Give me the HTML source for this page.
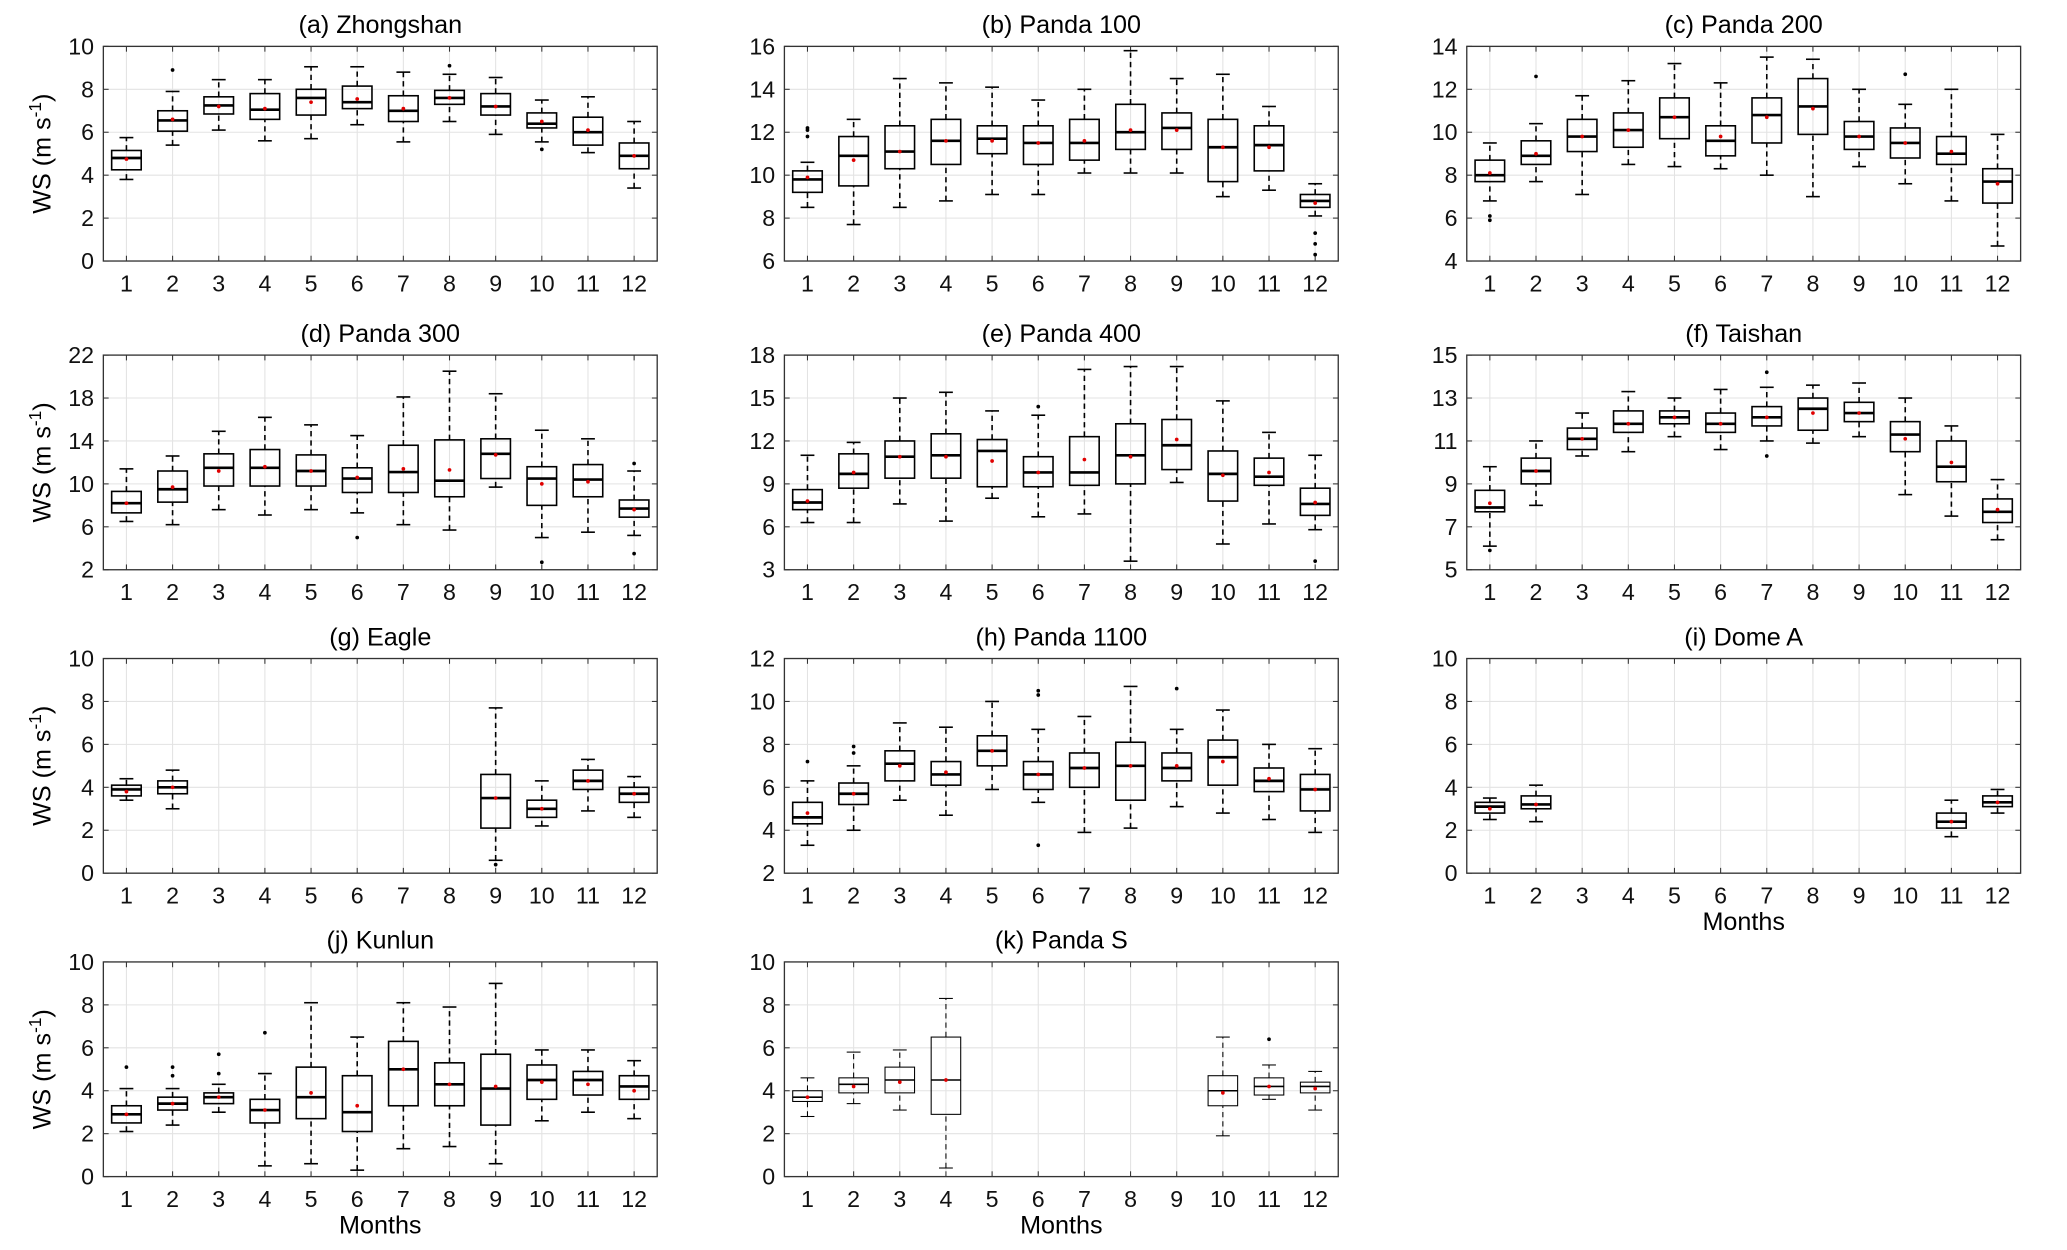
<!DOCTYPE html>
<html><head><meta charset="utf-8"><style>
html,body{margin:0;padding:0;background:#fff}
svg{display:block;font-family:"Liberation Sans",Arial,sans-serif}
</style></head><body>
<svg id="fig" width="2067" height="1250" viewBox="0 0 1560 943.4" xmlns="http://www.w3.org/2000/svg"></svg>
<script>
const panelTitles = ["(a) Zhongshan","(b) Panda 100","(c) Panda 200","(d) Panda 300","(e) Panda 400","(f) Taishan","(g) Eagle","(h) Panda 1100","(i) Dome A","(j) Kunlun","(k) Panda S"];
const yMin = [0,6,4,2,3,5,0,2,0,0,0];
const yMax = [10,16,14,22,18,15,10,12,10,10,10];
const yStep = [2,2,2,4,3,2,2,2,2,2,2];
const months = [1,2,3,4,5,6,7,8,9,10,11,12];
const N = null;
const whiskerLow = [
[3.8,5.4,6.1,5.6,5.7,6.35,5.55,6.5,5.9,5.55,5.05,3.4],
[8.5,7.7,8.5,8.8,9.1,9.1,10.1,10.1,10.1,9.0,9.3,8.1],
[6.8,7.7,7.1,8.5,8.4,8.3,8.0,7.0,8.4,7.6,6.8,4.7],
[6.5,6.2,7.6,7.1,7.6,7.3,6.2,5.7,9.7,5.0,5.5,5.2],
[6.3,6.3,7.6,6.4,8.0,6.7,6.9,3.6,9.1,4.8,6.2,5.8],
[6.1,8.0,10.3,10.5,11.2,10.6,11.0,10.9,11.2,8.5,7.5,6.4],
[3.4,3.0,N,N,N,N,N,N,0.6,2.2,2.9,2.6],
[3.3,4.0,5.4,4.7,5.9,5.3,3.9,4.1,5.1,4.8,4.5,3.9],
[2.5,2.4,N,N,N,N,N,N,N,N,1.7,2.8],
[2.1,2.4,3.0,0.5,0.6,0.3,1.3,1.4,0.6,2.6,3.0,2.7],
[2.8,3.4,3.1,0.4,N,N,N,N,N,1.9,3.6,3.1]];
const quartile1 = [
[4.25,6.05,6.85,6.6,6.8,7.1,6.5,7.3,6.8,6.2,5.4,4.3],
[9.2,9.5,10.3,10.5,11.0,10.5,10.7,11.2,11.2,9.7,10.2,8.5],
[7.7,8.5,9.1,9.3,9.7,8.9,9.5,9.9,9.2,8.8,8.5,6.7],
[7.3,8.3,9.8,9.8,9.8,9.2,9.2,8.8,10.5,8.0,8.8,6.9],
[7.2,8.7,9.4,9.4,8.8,8.8,8.9,9.0,10.0,7.8,8.9,6.8],
[7.7,9.0,10.6,11.4,11.8,11.4,11.7,11.5,11.9,10.5,9.1,7.2],
[3.6,3.7,N,N,N,N,N,N,2.1,2.6,3.9,3.3],
[4.3,5.2,6.3,6.1,7.0,5.9,6.0,5.4,6.3,6.1,5.8,4.9],
[2.8,3.0,N,N,N,N,N,N,N,N,2.1,3.1],
[2.5,3.1,3.4,2.5,2.7,2.1,3.3,3.3,2.4,3.6,3.8,3.6],
[3.5,3.9,3.9,2.9,N,N,N,N,N,3.3,3.8,3.9]];
const medians = [
[4.8,6.55,7.25,7.05,7.6,7.4,7.0,7.6,7.2,6.4,6.0,4.9],
[9.8,10.9,11.1,11.6,11.7,11.5,11.5,12.0,12.2,11.3,11.4,8.8],
[8.0,8.9,9.8,10.1,10.7,9.6,10.8,11.2,9.8,9.5,9.0,7.7],
[8.2,9.5,11.5,11.5,11.2,10.5,11.1,10.3,12.8,10.5,10.4,7.7],
[7.7,9.7,10.9,11.0,11.3,9.8,9.8,11.0,11.7,9.7,9.5,7.6],
[7.9,9.6,11.1,11.8,12.1,11.8,12.1,12.5,12.3,11.3,9.8,7.7],
[3.9,4.0,N,N,N,N,N,N,3.5,3.0,4.3,3.7],
[4.6,5.7,7.1,6.6,7.7,6.6,6.9,7.0,6.9,7.4,6.3,5.9],
[3.1,3.2,N,N,N,N,N,N,N,N,2.4,3.3],
[2.9,3.4,3.7,3.1,3.7,3.0,5.0,4.3,4.1,4.5,4.5,4.2],
[3.7,4.3,4.5,4.5,N,N,N,N,N,4.0,4.2,4.2]];
const quartile3 = [
[5.15,7.0,7.65,7.8,8.0,8.15,7.7,7.95,7.8,6.9,6.7,5.5],
[10.2,11.8,12.3,12.6,12.3,12.3,12.6,13.3,12.9,12.6,12.3,9.1],
[8.7,9.6,10.6,10.9,11.6,10.3,11.6,12.5,10.5,10.2,9.8,8.3],
[9.3,11.2,12.8,13.2,12.7,11.5,13.6,14.1,14.2,11.6,11.8,8.5],
[8.6,11.1,12.0,12.5,12.1,10.9,12.3,13.2,13.5,11.3,10.8,8.7],
[8.7,10.2,11.6,12.4,12.4,12.3,12.6,13.0,12.8,11.9,11.0,8.3],
[4.1,4.3,N,N,N,N,N,N,4.6,3.4,4.8,4.0],
[5.3,6.2,7.7,7.2,8.4,7.2,7.6,8.1,7.6,8.2,6.9,6.6],
[3.3,3.6,N,N,N,N,N,N,N,N,2.8,3.6],
[3.3,3.7,3.9,3.6,5.1,4.7,6.3,5.3,5.7,5.2,4.9,4.7],
[4.0,4.6,5.1,6.5,N,N,N,N,N,4.7,4.6,4.4]];
const whiskerHigh = [
[5.75,7.9,8.45,8.45,9.05,9.05,8.8,8.7,8.55,7.5,7.65,6.5],
[10.6,12.6,14.5,14.3,14.1,13.5,14.0,15.8,14.5,14.7,13.2,9.6],
[9.5,10.4,11.7,12.4,13.2,12.3,13.5,13.4,12.0,11.3,12.0,9.9],
[11.4,12.6,14.9,16.2,15.5,14.5,18.1,20.5,18.4,15.0,14.2,11.2],
[11.0,11.9,15.0,15.4,14.1,13.8,17.0,17.2,17.2,14.8,12.6,11.0],
[9.8,11.0,12.3,13.3,13.0,13.4,13.5,13.6,13.7,13.0,11.7,9.2],
[4.4,4.8,N,N,N,N,N,N,7.7,4.3,5.3,4.5],
[6.3,7.0,9.0,8.8,10.0,8.7,9.3,10.7,8.7,9.6,8.0,7.8],
[3.5,4.1,N,N,N,N,N,N,N,N,3.4,3.9],
[4.1,4.1,4.3,4.8,8.1,6.5,8.1,7.9,9.0,5.9,5.9,5.4],
[4.6,5.8,5.9,8.3,N,N,N,N,N,6.5,5.2,4.9]];
const means = [
[4.75,6.6,7.2,7.1,7.4,7.55,7.1,7.6,7.2,6.5,6.1,4.9],
[9.9,10.7,11.1,11.6,11.6,11.5,11.6,12.1,12.1,11.3,11.3,8.7],
[8.1,9.0,9.8,10.1,10.7,9.8,10.7,11.1,9.8,9.5,9.1,7.6],
[8.2,9.7,11.2,11.6,11.2,10.6,11.4,11.3,12.7,10.0,10.2,7.6],
[7.8,9.8,10.9,10.9,10.6,9.8,10.7,10.9,12.1,9.6,9.8,7.7],
[8.1,9.6,11.1,11.8,12.1,11.8,12.1,12.3,12.3,11.1,10.0,7.8],
[3.8,4.0,N,N,N,N,N,N,3.5,3.0,4.3,3.7],
[4.8,5.7,7.0,6.7,7.7,6.6,6.9,7.0,7.0,7.2,6.4,5.9],
[3.0,3.2,N,N,N,N,N,N,N,N,2.4,3.3],
[2.9,3.4,3.7,3.1,3.9,3.3,5.0,4.3,4.2,4.4,4.3,4.0],
[3.7,4.2,4.4,4.5,N,N,N,N,N,3.9,4.2,4.1]];
const outlierMonths = [[2,8,10],[1,1,1,12,12,12],[1,1,2,10],[6,10,12,12],[6,12],[1,7,7],[9],[1,2,2,6,6,6,9],[],[1,2,2,3,3,4],[11]];
const outlierValues = [[8.9,9.1,5.2],[11.8,12.1,12.2,7.3,6.8,6.3],[6.1,5.9,12.6,12.7],[5.0,2.7,3.5,11.9],[14.4,3.6],[5.9,14.2,10.3],[0.4],[7.2,7.6,7.9,10.3,10.5,3.3,10.6],[],[5.1,4.7,5.1,4.8,5.7,6.7],[6.4]];

const colX = [78, 592, 1107], rowY = [35, 268, 497, 726], W = 418, H = 162;
const svg = document.getElementById('fig');
const NS = 'http://www.w3.org/2000/svg';
function mk(tag, attrs, parent) {
  const e = document.createElementNS(NS, tag);
  for (const k in attrs) e.setAttribute(k, attrs[k]);
  parent.appendChild(e); return e;
}
const xlabelPanels = [8, 9, 10];
for (let p = 0; p < 11; p++) {
  const L = colX[p % 3], T = rowY[Math.floor(p / 3)];
  const xs = m => L + (m - 0.5) / 12 * W;
  const ys = v => T + H - (v - yMin[p]) / (yMax[p] - yMin[p]) * H;
  const g = mk('g', {}, svg);
  
  
  for (const m of months) {
    const gl = mk('line', {x1: xs(m), x2: xs(m), y1: T, y2: T + H, stroke: '#e3e3e3', 'stroke-width': 0.8}, g);
    
    
  }
  for (let v = yMin[p]; v <= yMax[p] + 1e-9; v += yStep[p]) {
    const gl = mk('line', {x1: L, x2: L + W, y1: ys(v), y2: ys(v), stroke: '#e3e3e3', 'stroke-width': 0.8}, g);
    
    
    mk('line', {x1: L, x2: L + 4, y1: ys(v), y2: ys(v), stroke: '#333', 'stroke-width': 0.8}, g);
    mk('line', {x1: L + W - 4, x2: L + W, y1: ys(v), y2: ys(v), stroke: '#333', 'stroke-width': 0.8}, g);
    const t = mk('text', {x: L - 7, y: ys(v) + 6, 'text-anchor': 'end', 'font-size': 17.5, fill: '#111'}, g);
    t.textContent = v;
    
    
  }
  for (const m of months) {
    mk('line', {x1: xs(m), x2: xs(m), y1: T + H, y2: T + H - 4, stroke: '#333', 'stroke-width': 0.8}, g);
    mk('line', {x1: xs(m), x2: xs(m), y1: T, y2: T + 4, stroke: '#333', 'stroke-width': 0.8}, g);
    const t = mk('text', {x: xs(m), y: T + H + 23, 'text-anchor': 'middle', 'font-size': 17.5, fill: '#111'}, g);
    t.textContent = m;
    
    
  }
  const thin = p === 10;
  const sw = thin ? 0.8 : 1.2;
  const bw = W / 12 * 0.64, cw = W / 12 * 0.3;
  for (let i = 0; i < 12; i++) {
    if (medians[p][i] === null) continue;
    const m = months[i], cx = xs(m);
    const bg = mk('g', {}, g);
    
    
    mk('line', {x1: cx, x2: cx, y1: ys(whiskerLow[p][i]), y2: ys(quartile1[p][i]), stroke: '#000', 'stroke-width': sw, 'stroke-dasharray': '4,3'}, bg);
    mk('line', {x1: cx, x2: cx, y1: ys(quartile3[p][i]), y2: ys(whiskerHigh[p][i]), stroke: '#000', 'stroke-width': sw, 'stroke-dasharray': '4,3'}, bg);
    mk('line', {x1: cx - cw / 2, x2: cx + cw / 2, y1: ys(whiskerLow[p][i]), y2: ys(whiskerLow[p][i]), stroke: '#000', 'stroke-width': sw}, bg);
    mk('line', {x1: cx - cw / 2, x2: cx + cw / 2, y1: ys(whiskerHigh[p][i]), y2: ys(whiskerHigh[p][i]), stroke: '#000', 'stroke-width': sw}, bg);
    mk('rect', {x: cx - bw / 2, y: ys(quartile3[p][i]), width: bw, height: ys(quartile1[p][i]) - ys(quartile3[p][i]), fill: 'none', stroke: '#000', 'stroke-width': sw}, bg);
    mk('line', {x1: cx - bw / 2, x2: cx + bw / 2, y1: ys(medians[p][i]), y2: ys(medians[p][i]), stroke: '#000', 'stroke-width': thin ? 1.2 : 2}, bg);
    mk('circle', {cx: cx, cy: ys(means[p][i]), r: 1.4, fill: '#e00000'}, bg);
  }
  for (let k = 0; k < outlierMonths[p].length; k++) {
    const c = mk('circle', {cx: xs(outlierMonths[p][k]), cy: ys(outlierValues[p][k]), r: 1.4, fill: '#000'}, g);
    
    
  }
  const fr = mk('rect', {x: L, y: T, width: W, height: H, fill: 'none', stroke: '#333', 'stroke-width': 1}, g);
  
  
  const tt = mk('text', {x: L + W / 2, y: T - 10, 'text-anchor': 'middle', 'font-size': 19, fill: '#000'}, g);
  tt.textContent = panelTitles[p];
  
  
  if (p % 3 === 0) {
    const yl = mk('text', {x: 0, y: 0, 'text-anchor': 'middle', 'font-size': 19, fill: '#000', transform: 'translate(' + (L - 40) + ',' + (T + H / 2) + ') rotate(-90)'}, g);
    yl.innerHTML = 'WS (m s<tspan dy="-7" font-size="13">-1</tspan><tspan dy="7">)</tspan>';
    
    
  }
  if (xlabelPanels.includes(p)) {
    const xl = mk('text', {x: L + W / 2, y: T + H + 43, 'text-anchor': 'middle', 'font-size': 19, fill: '#000'}, g);
    xl.textContent = 'Months';
    
    
  }
}
</script>
</body></html>
